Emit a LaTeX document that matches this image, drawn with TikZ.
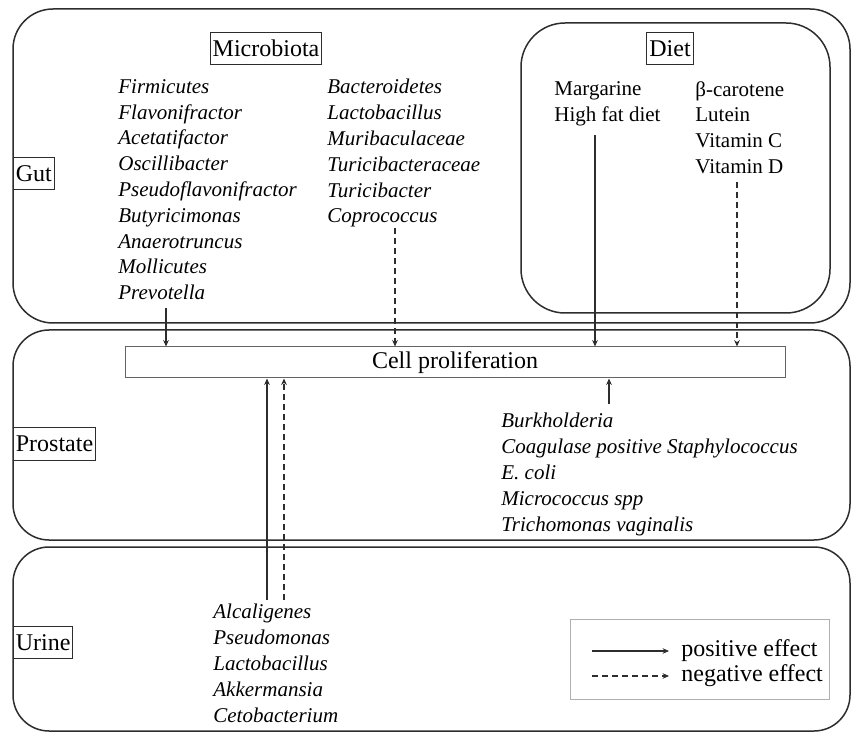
\documentclass[tikz,border=0pt]{standalone}
\usepackage{fontspec}
\setmainfont{Liberation Serif}
\usepackage{tikz}
\usetikzlibrary{
  arrows.meta,
  positioning
}
\definecolor{linecolor}{RGB}{45, 45, 45}
\definecolor{cellframe}{RGB}{100, 100, 100}
\definecolor{legendframe}{RGB}{175, 175, 175}
\tikzset{
regionbox/.style={
  draw=linecolor,
  line width=0.75pt,
  rounded corners=20pt
},
labelbox/.style={
  draw=linecolor,
  line width=0.5pt,
  inner xsep=1.2pt,
  inner ysep=0pt,
  minimum height=16pt,
  font=\fontsize{12}{14}\selectfont
},
taxonlist/.style={
  align=left,
  inner sep=0pt,
  anchor=north west,
  font=\fontsize{10.5}{12.9}\selectfont\itshape
},
dietlist/.style={
  taxonlist,
  font=\fontsize{10.5}{12.9}\selectfont\upshape
},
cellbox/.style={
  draw=cellframe,
  line width=0.5pt,
  minimum width=330pt,
  minimum height=15.5pt,
  inner sep=0pt,
  font=\fontsize{12}{14}\selectfont
},
posarrow/.style={
  -{Stealth[length=3.2pt,width=2.8pt]},
  line width=0.6pt,
  draw=linecolor
},
negarrow/.style={
  posarrow,
  dash pattern=on 3pt off 2pt
},
legendbox/.style={
  draw=legendframe,
  line width=0.5pt
},
legendtext/.style={
  anchor=west,
  inner sep=0pt,
  font=\fontsize{12}{14}\selectfont
}
}
\begin{document}
\begin{tikzpicture}[x=0.5pt,y=-0.5pt]
\useasboundingbox (0,0) rectangle (851,732);

% regions
\draw[regionbox] (13,9) rectangle (850,323);
\draw[regionbox, rounded corners=22pt] (521,23) rectangle (830,313);
\draw[regionbox, rounded corners=18pt] (13,330) rectangle (850,540);
\draw[regionbox, rounded corners=18pt] (13,547) rectangle (850,731);

\node[labelbox, anchor=west] (gut) at (13,173.5) {Gut};
\node[labelbox, anchor=west] (prostate) at (13,444) {Prostate};
\node[labelbox, anchor=west] (urine) at (13,642.5) {Urine};
\node[labelbox] (microbiota) at (266,48.5) {Microbiota};
\node[labelbox] (diet) at (670,48.5) {Diet};

% gut microbiota
\node[taxonlist] (gutleft) at (118,79) {Firmicutes\\Flavonifractor\\Acetatifactor\\Oscillibacter\\Pseudoflavonifractor\\Butyricimonas\\Anaerotruncus\\Mollicutes\\Prevotella};
\node[taxonlist] (gutright) at (327,79) {Bacteroidetes\\Lactobacillus\\Muribaculaceae\\Turicibacteraceae\\Turicibacter\\Coprococcus};

% diet
\node[dietlist] (dietpos) at (554,81) {Margarine\\High fat diet};
\node[dietlist] (dietneg) at (695,81) {β-carotene\\Lutein\\Vitamin C\\Vitamin D};

% target
\node[cellbox] (cell) at (455,362.5) {Cell proliferation};

% prostate and urine microbiota
\node[taxonlist] (prostlist) at (501,413) {Burkholderia\\Coagulase positive Staphylococcus\\E. coli\\Micrococcus spp\\Trichomonas vaginalis};
\node[taxonlist] (urinelist) at (213,604) {Alcaligenes\\Pseudomonas\\Lactobacillus\\Akkermansia\\Cetobacterium};

% arrow starts
\coordinate (prevo) at (166,308);
\coordinate (copro) at (395,228);
\coordinate (marg) at (595,135);
\coordinate (vitd) at (737,182);
\coordinate (burk) at (609,404);
\coordinate (alcpos) at (267,600);
\coordinate (alcneg) at (284,600);

\draw[posarrow] (prevo) -- (prevo |- cell.north);
\draw[negarrow] (copro) -- (copro |- cell.north);
\draw[posarrow] (marg) -- (marg |- cell.north);
\draw[negarrow] (vitd) -- (vitd |- cell.north);
\draw[posarrow] (burk) -- (burk |- cell.south);
\draw[posarrow] (alcpos) -- (alcpos |- cell.south);
\draw[negarrow] (alcneg) -- (alcneg |- cell.south);

% legend
\draw[legendbox] (570,619) rectangle (829,699);
\coordinate (posstart) at (592,651);
\coordinate (negstart) at (592,676);
\node[legendtext] (postext) at (681,651) {positive effect};
\node[legendtext] (negtext) at (681,676) {negative effect};
\draw[posarrow] (posstart) -- ([xshift=-6pt]postext.west);
\draw[negarrow] (negstart) -- ([xshift=-6pt]negtext.west);
\end{tikzpicture}
\end{document}
